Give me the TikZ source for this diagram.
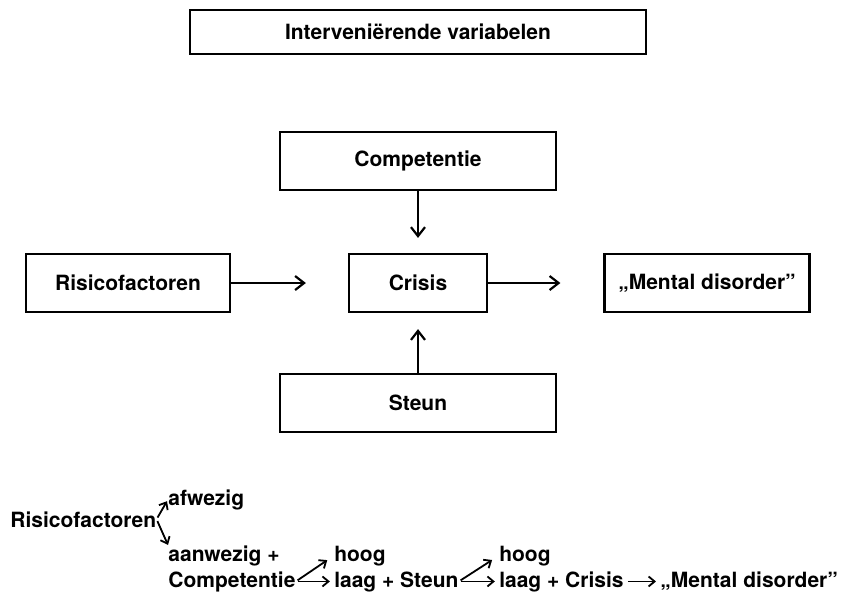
\documentclass[tikz,border=0pt]{standalone}
\usepackage{fontspec}
\setmainfont{TeX Gyre Heros}
\usetikzlibrary{positioning,arrows.meta}

\begin{document}
\begin{tikzpicture}[x=0.5pt,y=-0.5pt,
  every node/.style={font=\fontsize{10.5}{12.6}\selectfont\bfseries,inner sep=0pt},
  box/.style={draw=black,line width=1.1pt,minimum height=29pt},
  arr/.style={-{Straight Barb[length=4.5pt,width=7pt]},line width=1.1pt},
  sarr/.style={-{Straight Barb[length=3pt,width=5pt]},line width=0.9pt}]
\useasboundingbox (0,0) rectangle (843,596);
\node [box,minimum width=228pt,minimum height=22pt] (interv) at (418,32) {Interveniërende variabelen};
\node [box,minimum width=138pt] (comp) at (418,161) {Competentie};
\node [box,minimum width=102pt] (risico) at (128,283) {Risicofactoren};
\node [box,minimum width=69pt] (crisis) at (418,283) {Crisis};
\node [box,minimum width=102.5pt] (mental) at (707,283) {„Mental disorder”};
\node [box,minimum width=138pt] (steun) at (418,403) {Steun};
\draw [arr,shorten >=7.5pt] (comp) -- (crisis);
\draw [arr,shorten >=21pt] (risico) -- (crisis);
\draw [arr,shorten >=21.5pt] (crisis) -- (mental);
\draw [arr,shorten >=8pt] (steun) -- (crisis);
\node [anchor=base west] (risico2) at (10,527) {Risicofactoren};
\node [anchor=base west] (afw) at (168,505) {afwezig};
\node [anchor=base west] (aanw) at (168,561) {aanwezig +};
\node [anchor=base west] (comp2) at (168,587) {Competentie};
\node [base right=19pt of comp2] (laag1) {laag + Steun};
\node [base right=20pt of laag1] (laag2) {laag + Crisis};
\node [base right=18pt of laag2] (mental2) {„Mental disorder”};
\node [anchor=base west] (hoog1) at (aanw.base -| laag1.base west) {hoog};
\node [anchor=base west] (hoog2) at (aanw.base -| laag2.base west) {hoog};
\draw [sarr,shorten <=1pt,shorten >=1pt] (risico2.east) -- (afw.west);
\draw [sarr,shorten <=1pt,shorten >=0pt] (risico2.east) -- (aanw.north west);
\draw [sarr,shorten <=1pt,shorten >=2pt] (comp2.east) -- (comp2.east -| laag1.west);
\draw [sarr,shorten <=1pt,shorten >=4pt] (comp2.east) -- (hoog1.west);
\draw [sarr,shorten <=1pt,shorten >=2pt] (laag1.east |- comp2.east) -- (laag2.west |- comp2.east);
\draw [sarr,shorten <=1pt,shorten >=4pt] (laag1.east |- comp2.east) -- (hoog2.west);
\draw [sarr,shorten <=2pt,shorten >=2pt] (laag2.east |- comp2.east) -- (mental2.west |- comp2.east);
\end{tikzpicture}
\end{document}
